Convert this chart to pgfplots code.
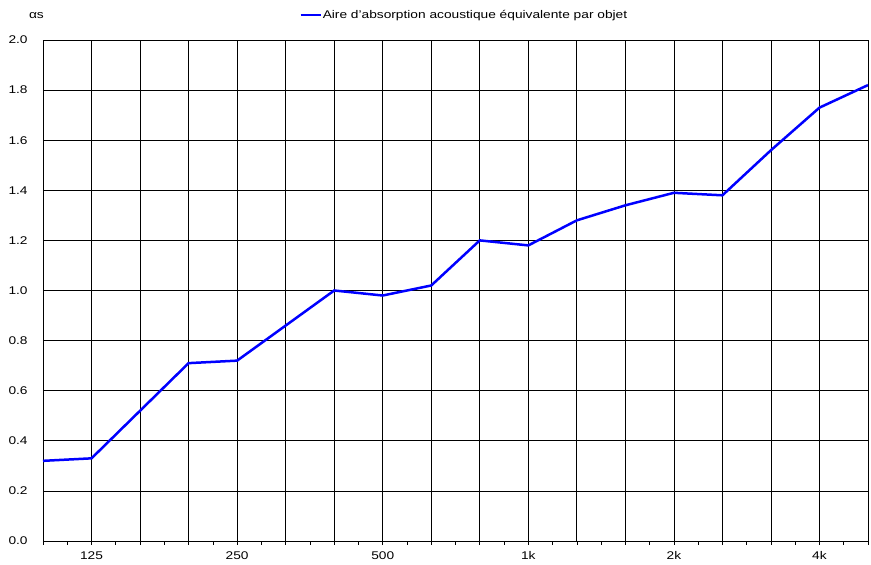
\documentclass[border=0pt]{standalone}
\usepackage{fontspec}
\setmainfont{Liberation Sans}[FakeStretch=1.23]
\usepackage{pgfplots}
\pgfplotsset{compat=1.18}
\definecolor{lineblue}{RGB}{0,0,255}
\pgfplotstableread{
idx val
0 0.32
1 0.33
2 0.52
3 0.71
4 0.72
5 0.86
6 1.00
7 0.98
8 1.02
9 1.20
10 1.18
11 1.28
12 1.34
13 1.39
14 1.38
15 1.56
16 1.73
17 1.82
}\datatable
\begin{document}
\fontsize{11.2}{13}\selectfont
\begin{tikzpicture}
\useasboundingbox (0,0) rectangle (871bp,565bp);
\begin{axis}[
  at={(43bp,24bp)}, anchor=south west,
  width=825bp, height=501bp, scale only axis,
  xmin=0, xmax=17, ymin=0, ymax=2,
  xtick={0,...,17},
  xticklabels={,125,,,250,,,500,,,1k,,,2k,,,4k,},
  minor x tick num=1,
  ytick={0,0.2,0.4,0.6,0.8,1.0,1.2,1.4,1.6,1.8,2.0},
  yticklabel style={xshift=-8bp, /pgf/number format/fixed, /pgf/number format/fixed zerofill, /pgf/number format/precision=1, /pgf/number format/assume math mode=true},
  xticklabel style={yshift=-3bp},
  ytick style={draw=none},
  xtick pos=left,
  tick align=outside,
  major tick length=3.5bp, minor tick length=3.5bp,
  tick style={black, line width=0.6bp},
  xmajorgrids, ymajorgrids,
  grid style={black, line width=0.7bp},
  axis line style={black, line width=0.8bp},
  ticklabel style={font=\fontsize{11.2}{13}\selectfont},
  legend style={at={(axis description cs:0.51,1)}, anchor=south, yshift=18bp, draw=none, fill=none, inner sep=0pt, nodes={inner xsep=1bp}, font=\fontsize{11.2}{13}\selectfont},
  legend cell align=left,
  legend image code/.code={\draw[#1] (0bp,0bp) -- (20bp,0bp);},
]
\addplot[color=lineblue, line width=2.5bp] table[x=idx, y=val] {\datatable};
\addlegendentry{Aire d'absorption acoustique équivalente par objet}
\end{axis}
\node[anchor=base east, inner sep=0pt] at (44bp,546bp) {αs};
\end{tikzpicture}
\end{document}
